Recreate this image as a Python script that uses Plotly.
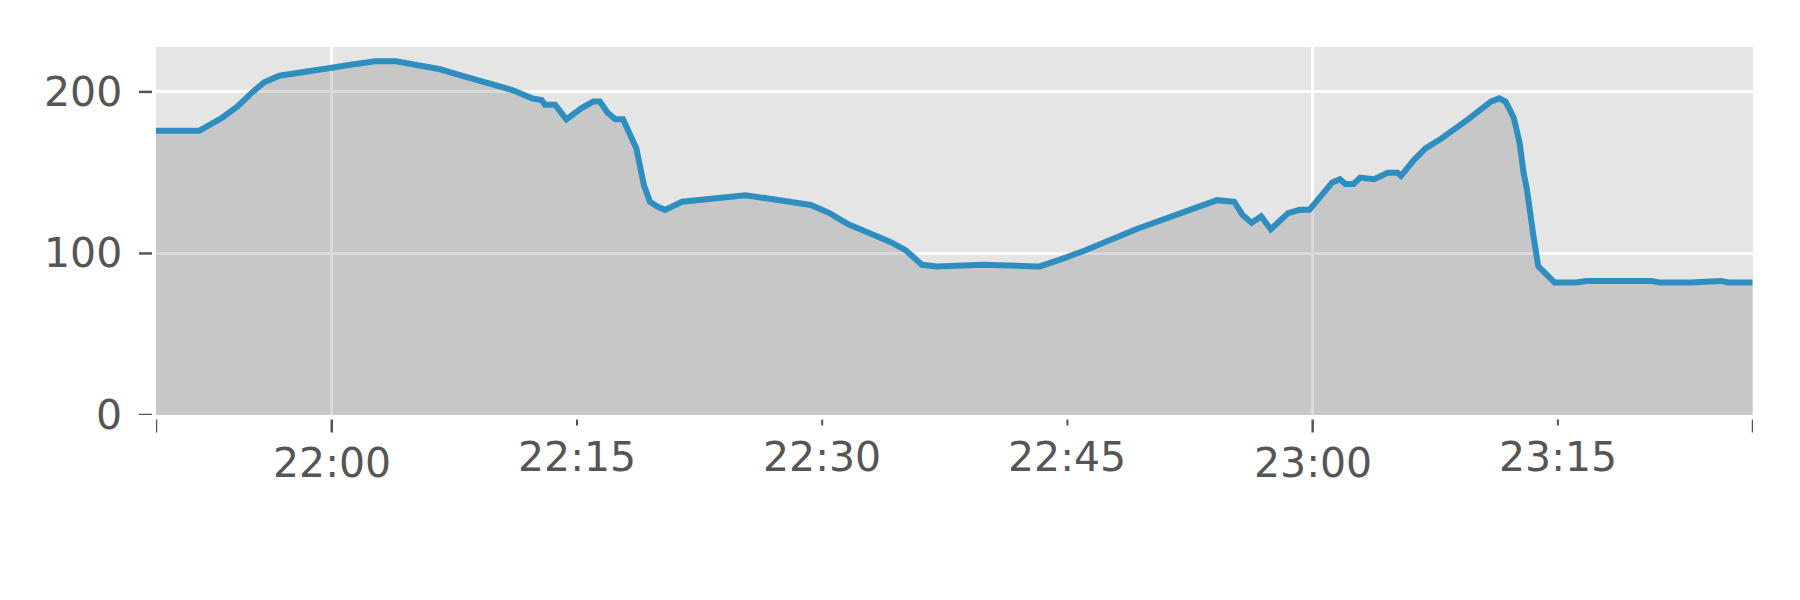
import plotly.graph_objects as go

DAY = "2020-01-01 "

# Data
times = ["21:49:15", "21:51:54", "21:53:18", "21:54:14", "21:55:10", "21:55:52", "21:56:48", "21:58:26",
         "22:00:00", "22:01:14", "22:02:39", "22:03:56", "22:04:30", "22:05:28", "22:06:38", "22:08:00",
         "22:08:58", "22:10:08", "22:11:05", "22:12:15", "22:12:50", "22:13:03", "22:13:40", "22:14:21",
         "22:15:17", "22:16:00", "22:16:24", "22:16:53", "22:17:21", "22:17:49", "22:18:38", "22:19:06",
         "22:19:28", "22:19:55", "22:20:23", "22:21:26", "22:22:30", "22:23:54", "22:25:18", "22:26:42",
         "22:28:06", "22:29:18", "22:30:27", "22:31:36", "22:32:48", "22:34:12", "22:35:06", "22:36:06",
         "22:37:00", "22:39:48", "22:43:06", "22:43:18", "22:44:30", "22:46:06", "22:49:12", "22:50:48",
         "22:53:06", "22:54:09", "22:55:12", "22:55:42", "22:56:16", "22:56:51", "22:57:26", "22:58:30",
         "22:59:12", "22:59:48", "23:01:12", "23:01:40", "23:02:00", "23:02:30", "23:02:54", "23:03:45",
         "23:04:36", "23:05:12", "23:05:24", "23:06:12", "23:06:54", "23:07:51", "23:09:30", "23:10:54",
         "23:11:24", "23:11:48", "23:12:18", "23:12:40", "23:12:54", "23:13:06", "23:13:30", "23:13:48",
         "23:14:18", "23:14:48", "23:16:06", "23:16:45", "23:20:42", "23:21:12", "23:23:06", "23:25:00",
         "23:25:24", "23:26:54"]
values = [176, 176, 184, 191, 200, 206, 210, 213,
          215, 217, 219, 219, 218, 216, 214, 210,
          207, 204, 201, 196, 195, 192, 192, 183,
          190, 194, 194, 187, 183, 183, 165, 142,
          132, 129, 127, 132, 133, 134, 136, 134,
          132, 130, 125, 118, 113, 107, 102, 93,
          92, 93, 92, 92, 96, 102, 115, 121,
          129, 133, 132, 124, 119, 123, 115, 125,
          127, 127, 144, 146, 143, 143, 147, 146,
          150, 150, 148, 158, 165, 171, 183, 194,
          196, 194, 184, 168, 150, 140, 111, 92,
          87, 82, 82, 83, 83, 82, 82, 83,
          82, 82]

x_range = ["21:49:15", "23:26:56"]
y_range = [0, 227.8]
major_ticks = ["21:49:15", "22:00:00", "23:00:00", "23:26:56"]
major_labels = {"22:00:00": "22:00", "23:00:00": "23:00"}
minor_ticks = ["22:15:00", "22:30:00", "22:45:00", "23:15:00"]
minor_labels = ["22:15", "22:30", "22:45", "23:15"]
y_ticks = [0, 100, 200]
y_labels = ["0", "100", "200"]

W, H = 1800, 600
L, R, T, B = 156, 47, 47, 184.5
PH = H - T - B
PW = W - L - R

TXT = "#555555"
FONT = "DejaVu Sans"
FS = 41

xs = [DAY + t for t in times]

fig = go.Figure()
fig.add_trace(go.Scatter(
    x=xs, y=values, mode="lines",
    line=dict(color="#2e8ec0", width=6),
    fill="tozeroy", fillcolor="rgba(128,128,128,0.3)",
    showlegend=False, hoverinfo="skip",
))

shapes = []
annotations = []
for t in major_ticks:
    shapes.append(dict(type="line", xref="x", yref="paper", x0=DAY + t, x1=DAY + t,
                       y0=-4.5 / PH, y1=-17.5 / PH, line=dict(color=TXT, width=2.5)))
for t in minor_ticks:
    shapes.append(dict(type="line", xref="x", yref="paper", x0=DAY + t, x1=DAY + t,
                       y0=-4.5 / PH, y1=-10.5 / PH, line=dict(color=TXT, width=2)))
for v in y_ticks:
    shapes.append(dict(type="line", xref="paper", yref="y", x0=-4 / PW, x1=-17 / PW,
                       y0=v, y1=v, line=dict(color=TXT, width=2.5)))

for t, lab in major_labels.items():
    annotations.append(dict(x=DAY + t, y=0, xref="x", yref="paper", text=lab, showarrow=False,
                            xanchor="center", yanchor="middle", yshift=-47.5,
                            font=dict(family=FONT, size=FS, color=TXT)))
for t, lab in zip(minor_ticks, minor_labels):
    annotations.append(dict(x=DAY + t, y=0, xref="x", yref="paper", text=lab, showarrow=False,
                            xanchor="center", yanchor="middle", yshift=-42,
                            font=dict(family=FONT, size=FS, color=TXT)))
for v, lab in zip(y_ticks, y_labels):
    annotations.append(dict(x=0, y=v, xref="paper", yref="y", text=lab, showarrow=False,
                            xanchor="right", yanchor="middle", xshift=-32,
                            font=dict(family=FONT, size=FS, color=TXT)))

fig.update_layout(
    width=W, height=H,
    margin=dict(l=L, r=R, t=T, b=B, autoexpand=False),
    paper_bgcolor="white", plot_bgcolor="#e5e5e5",
    font=dict(family=FONT, size=FS, color=TXT),
    xaxis=dict(type="date", range=[DAY + x_range[0], DAY + x_range[1]],
               tickvals=[DAY + "22:00:00", DAY + "23:00:00"], showticklabels=False,
               showgrid=True, gridcolor="white", gridwidth=2.5, ticks="",
               zeroline=False, showline=False),
    yaxis=dict(range=y_range, tickvals=y_ticks, showticklabels=False,
               showgrid=True, gridcolor="white", gridwidth=2.5, ticks="",
               zeroline=False, showline=False),
    shapes=shapes, annotations=annotations,
)

fig.write_html("out.html", config={"displayModeBar": False},
               post_script="document.body.style.margin='0';")
